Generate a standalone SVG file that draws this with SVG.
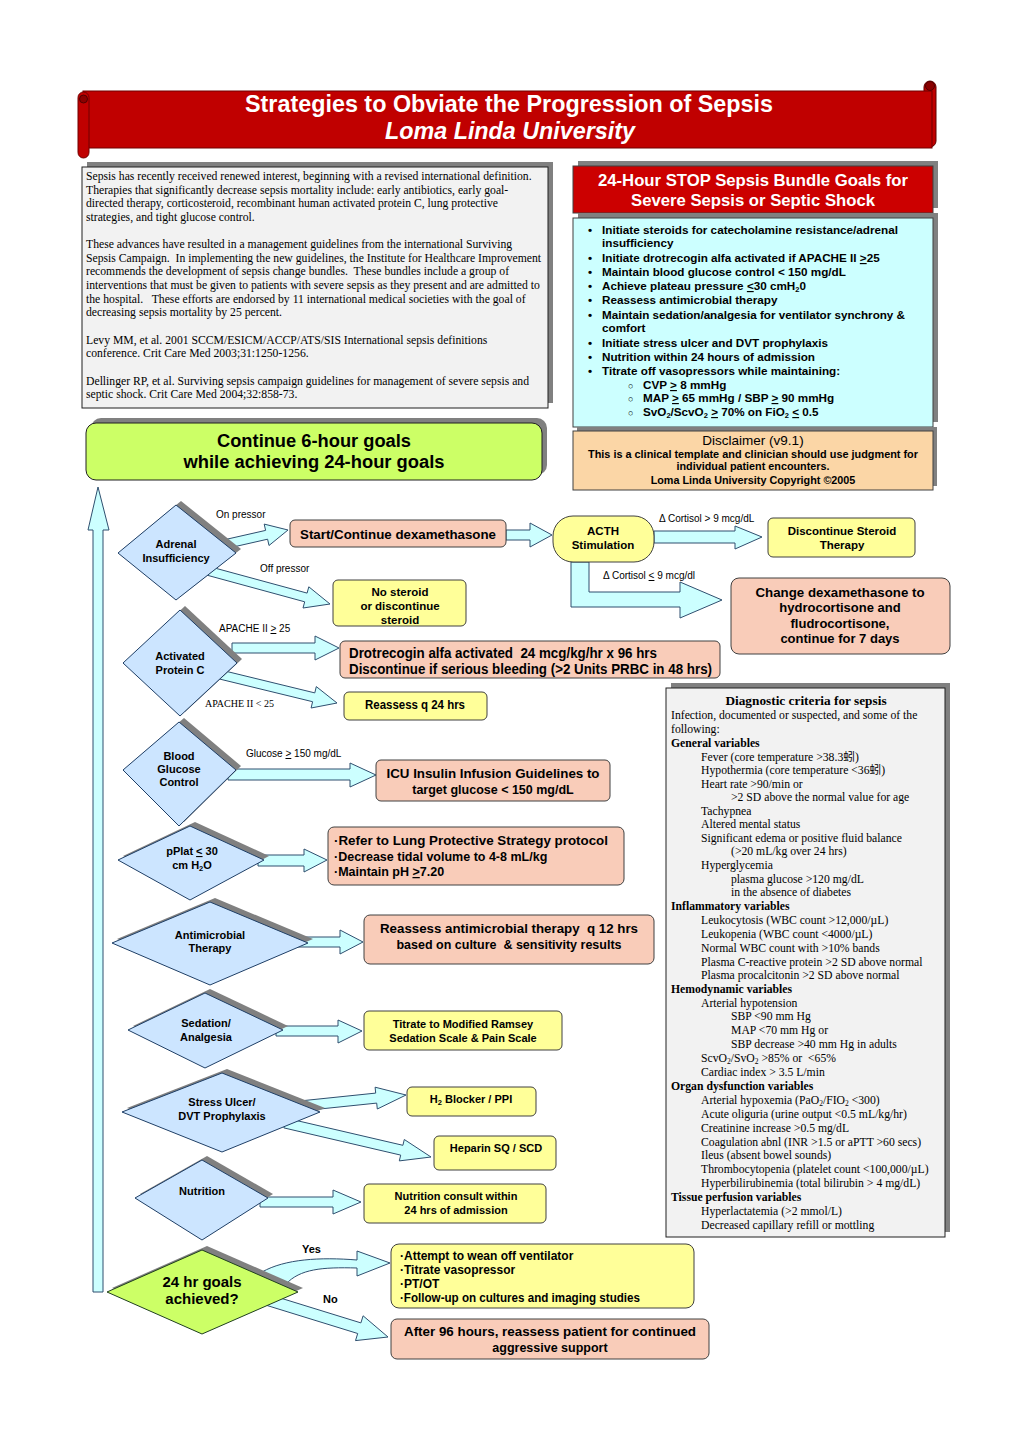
<svg xmlns="http://www.w3.org/2000/svg" width="1024" height="1448" viewBox="0 0 1024 1448">
<style>
.sans{font-family:"Liberation Sans",Arial,sans-serif}
.nar{font-family:"Liberation Sans Narrow","Liberation Sans",Arial,sans-serif}
.serif{font-family:"Liberation Serif","Times New Roman","Noto Sans CJK SC",serif}
.b{font-weight:bold}
.c{text-anchor:middle}
.u{text-decoration:underline}
.shadow{fill:#808080}
.salmon{fill:#f9ccb9;stroke:#404040;stroke-width:1}
.yellow{fill:#ffff99;stroke:#404040;stroke-width:1}
.dia{fill:#cce5ff;stroke:#1f3f66;stroke-width:1}
.arrow{fill:#ccffff;stroke:#2f4f6f;stroke-width:1}
.panel{fill:#f2f2f2;stroke:#202020;stroke-width:1}
</style>
<rect width="1024" height="1448" fill="#ffffff"/>

<!-- Title banner -->
<g id="title">
  <rect x="924" y="81" width="12" height="66" rx="6" fill="#c00000" stroke="#600000"/>
  <circle cx="930" cy="86" r="4.5" fill="#8a0000" stroke="#500000"/>
  <rect x="83" y="91" width="849" height="57" fill="#c00000" stroke="#700000"/>
  <rect x="78" y="92" width="11" height="66" rx="5.5" fill="#c00000" stroke="#700000"/>
  <circle cx="83.5" cy="99" r="4" fill="#8a0000" stroke="#500000"/>
  <text x="509" y="112" class="sans b c" font-size="23" fill="#ffffff" textLength="528" lengthAdjust="spacingAndGlyphs">Strategies to Obviate the Progression of Sepsis</text>
  <text x="510" y="139" class="sans b c" font-size="23" font-style="italic" fill="#ffffff" textLength="250" lengthAdjust="spacingAndGlyphs">Loma Linda University</text>
</g>

<!-- Intro text panel -->
<g id="intro">
  <rect x="87" y="162" width="466" height="241" class="shadow"/>
  <rect x="82" y="167" width="466" height="241" class="panel"/>
  <g class="serif" font-size="11.7" fill="#000">
    <text x="86" y="180">Sepsis has recently received renewed interest, beginning with a revised international definition.</text>
    <text x="86" y="194">Therapies that significantly decrease sepsis mortality include: early antibiotics, early goal-</text>
    <text x="86" y="207">directed therapy, corticosteroid, recombinant human activated protein C, lung protective</text>
    <text x="86" y="221">strategies, and tight glucose control.</text>
    <text x="86" y="248">These advances have resulted in a management guidelines from the international Surviving</text>
    <text x="86" y="262" xml:space="preserve">Sepsis Campaign.  In implementing the new guidelines, the Institute for Healthcare Improvement</text>
    <text x="86" y="275" xml:space="preserve">recommends the development of sepsis change bundles.  These bundles include a group of</text>
    <text x="86" y="289">interventions that must be given to patients with severe sepsis as they present and are admitted to</text>
    <text x="86" y="303" xml:space="preserve">the hospital.   These efforts are endorsed by 11 international medical societies with the goal of</text>
    <text x="86" y="316">decreasing sepsis mortality by 25 percent.</text>
    <text x="86" y="344">Levy MM, et al. 2001 SCCM/ESICM/ACCP/ATS/SIS International sepsis definitions</text>
    <text x="86" y="357">conference. Crit Care Med 2003;31:1250-1256.</text>
    <text x="86" y="385">Dellinger RP, et al. Surviving sepsis campaign guidelines for management of severe sepsis and</text>
    <text x="86" y="398">septic shock. Crit Care Med 2004;32:858-73.</text>
  </g>
</g>

<!-- 24-hour bundle header -->
<g id="bundle-header">
  <rect x="578" y="161" width="360" height="47" class="shadow"/>
  <rect x="573" y="166" width="360" height="47" fill="#cc0000" stroke="#404040"/>
  <text x="753" y="186" class="sans b c" font-size="16" fill="#ffffff" textLength="310" lengthAdjust="spacingAndGlyphs">24-Hour STOP Sepsis Bundle Goals for</text>
  <text x="753" y="206" class="sans b c" font-size="16" fill="#ffffff" textLength="244" lengthAdjust="spacingAndGlyphs">Severe Sepsis or Septic Shock</text>
</g>

<!-- Bundle goals list -->
<g id="bundle-goals">
  <rect x="578" y="213" width="360" height="209" class="shadow"/>
  <rect x="573" y="218" width="360" height="209" fill="#ccffff" stroke="#404040"/>
  <g class="sans b" font-size="11.7" fill="#000">
    <text x="588" y="234">•</text><text x="602" y="234" textLength="296" lengthAdjust="spacingAndGlyphs">Initiate steroids for catecholamine resistance/adrenal</text>
    <text x="602" y="247">insufficiency</text>
    <text x="588" y="262">•</text><text x="602" y="262">Initiate drotrecogin alfa activated if APACHE II <tspan class="u">&gt;</tspan>25</text>
    <text x="588" y="276">•</text><text x="602" y="276">Maintain blood glucose control &lt; 150 mg/dL</text>
    <text x="588" y="290">•</text><text x="602" y="290">Achieve plateau pressure <tspan class="u">&lt;</tspan>30 cmH<tspan font-size="7.5" dy="2">2</tspan><tspan dy="-2">0</tspan></text>
    <text x="588" y="304">•</text><text x="602" y="304">Reassess antimicrobial therapy</text>
    <text x="588" y="319">•</text><text x="602" y="319" textLength="303" lengthAdjust="spacingAndGlyphs">Maintain sedation/analgesia for ventilator synchrony &amp;</text>
    <text x="602" y="332">comfort</text>
    <text x="588" y="347">•</text><text x="602" y="347">Initiate stress ulcer and DVT prophylaxis</text>
    <text x="588" y="361">•</text><text x="602" y="361">Nutrition within 24 hours of admission</text>
    <text x="588" y="375">•</text><text x="602" y="375">Titrate off vasopressors while maintaining:</text>
    <text x="628" y="389" font-weight="normal" font-size="9">○</text><text x="643" y="389">CVP <tspan class="u">&gt;</tspan> 8 mmHg</text>
    <text x="628" y="402" font-weight="normal" font-size="9">○</text><text x="643" y="402">MAP <tspan class="u">&gt;</tspan> 65 mmHg / SBP <tspan class="u">&gt;</tspan> 90 mmHg</text>
    <text x="628" y="416" font-weight="normal" font-size="9">○</text><text x="643" y="416">SvO<tspan font-size="7.5" dy="2">2</tspan><tspan dy="-2">/ScvO</tspan><tspan font-size="7.5" dy="2">2</tspan><tspan dy="-2"> </tspan><tspan class="u">&gt;</tspan> 70% on FiO<tspan font-size="7.5" dy="2">2</tspan><tspan dy="-2"> </tspan><tspan class="u">&lt;</tspan> 0.5</text>
  </g>
</g>

<!-- Disclaimer -->
<g id="disclaimer">
  <rect x="577" y="427" width="360" height="59" class="shadow"/>
  <rect x="573" y="431" width="360" height="59" fill="#fbd6a6" stroke="#404040"/>
  <text x="753" y="445" class="sans c" font-size="13.5" fill="#000">Disclaimer (v9.1)</text>
  <text x="753" y="458" class="sans b c" font-size="10.8" fill="#000" textLength="330" lengthAdjust="spacingAndGlyphs">This is a clinical template and clinician should use judgment for</text>
  <text x="753" y="470" class="sans b c" font-size="10.8" fill="#000">individual patient encounters.</text>
  <text x="753" y="484" class="sans b c" font-size="10.8" fill="#000">Loma Linda University Copyright ©2005</text>
</g>

<!-- Continue box -->
<g id="continue">
  <rect x="91" y="418" width="456" height="57" rx="10" class="shadow"/>
  <rect x="86" y="423" width="456" height="57" rx="10" fill="#ccff66" stroke="#202020"/>
  <text x="314" y="447" class="sans b c" font-size="18" fill="#000" textLength="194" lengthAdjust="spacingAndGlyphs">Continue 6-hour goals</text>
  <text x="314" y="468" class="sans b c" font-size="18" fill="#000" textLength="261" lengthAdjust="spacingAndGlyphs">while achieving 24-hour goals</text>
</g>

<!-- Connectors -->
<g id="connectors">
  <!-- loop-back vertical arrow -->
  <polygon class="arrow" points="93,1292 93,530 88,530 98,487 109,530 103,530 103,1292"/>
  <!-- Adrenal -> Start/Continue -->
  <polygon class="arrow" points="227,548.4 267.6,539.2 269,545.5 288,530 264.2,524.1 265.6,530.4 225,539.6"/>
  <!-- Adrenal -> No steroid -->
  <polygon class="arrow" points="203.8,574.3 304.7,601.8 303,608 330,604 308.8,586.8 307.1,593.1 206.2,565.7"/>
  <!-- Start -> ACTH -->
  <polygon class="arrow" points="506,530 530,530 530,523 552,535 530,547 530,540 506,540"/>
  <!-- ACTH -> Discontinue -->
  <polygon class="arrow" points="654,531 735,531 735,526 762,537 735,549 735,543 654,543"/>
  <!-- ACTH -> Change dexamethasone (elbow) -->
  <polygon class="arrow" points="571,562 571,607 680,607 680,618 722,600 680,582 680,592 589,592 589,562"/>
  <!-- Activated -> Drotrecogin -->
  <polygon class="arrow" points="232,643 315,643 315,636 339,648 315,660 315,653 232,653"/>
  <!-- Activated -> Reassess -->
  <polygon class="arrow" points="216.9,678.4 312.6,701.7 311.1,708 337,703 316.3,686.6 314.8,692.9 219.1,669.6"/>
  <!-- Blood glucose -> ICU -->
  <polygon class="arrow" points="228,769 350,769 350,763 376,775 350,787 350,780 228,780"/>
  <!-- pPlat -> Lung -->
  <polygon class="arrow" points="258,855 304,855 304,849 327,860 304,872 304,866 258,866"/>
  <!-- Antimicrobial -> Reassess -->
  <polygon class="arrow" points="298,937 340,937 340,930 363,942 340,954 340,947 298,947"/>
  <!-- Sedation -> Titrate -->
  <polygon class="arrow" points="276,1026 338,1026 338,1020 362,1031 338,1043 338,1036 276,1036"/>
  <!-- Stress -> H2 -->
  <polygon class="arrow" points="300.5,1111 376.7,1103.1 377.3,1109 406,1095 375.1,1087.2 375.7,1093.1 299.5,1101"/>
  <!-- Stress -> Heparin -->
  <polygon class="arrow" points="283.9,1127.9 400.7,1155.1 399.3,1160.9 431,1157 404.3,1139.5 402.9,1145.3 286.1,1118.1"/>
  <!-- Nutrition -> consult -->
  <polygon class="arrow" points="260,1197 333,1197 333,1190 361,1202 333,1214 333,1207 260,1207"/>
  <!-- 24hr -> Yes -->
  <path class="arrow" d="M262,1272 C285,1259 320,1257 357,1260 L357,1251 L390,1263 L357,1276 L357,1268 C322,1267 300,1269 286,1284 Z"/>
  <!-- 24hr -> No -->
  <polygon class="arrow" points="266.4,1305.3 357.7,1333.5 355.5,1340.6 388,1337 363.1,1315.8 360.9,1322.9 269.6,1294.7"/>
  <!-- labels -->
  <g class="nar" font-size="10" fill="#000">
    <text x="216" y="518">On pressor</text>
    <text x="260" y="572">Off pressor</text>
    <text x="219" y="632">APACHE II <tspan class="u">&gt;</tspan> 25</text>
    <text x="246" y="757">Glucose <tspan class="u">&gt;</tspan> 150 mg/dL</text>
    <text x="659" y="522">Δ Cortisol &gt; 9 mcg/dL</text>
    <text x="603" y="579">Δ Cortisol <tspan class="u">&lt;</tspan> 9 mcg/dl</text>
  </g>
  <text x="205" y="707" class="serif" font-size="10" fill="#000">APACHE II &lt; 25</text>
  <text x="302" y="1253" class="sans b" font-size="11" fill="#000">Yes</text>
  <text x="323" y="1303" class="sans b" font-size="11" fill="#000">No</text>
</g>

<!-- Decision diamonds -->
<g id="adrenal">
  <polygon class="shadow" points="123,549 181,501 241,549 181,596"/>
  <polygon class="dia" points="118,553 176,505 236,553 176,600"/>
  <text x="176" y="548" class="sans b c" font-size="11">Adrenal</text>
  <text x="176" y="562" class="sans b c" font-size="11">Insufficiency</text>
</g>
<g id="apc">
  <polygon class="shadow" points="128,659 185,606 242,659 185,712"/>
  <polygon class="dia" points="123,663 180,610 237,663 180,716"/>
  <text x="180" y="660" class="sans b c" font-size="11">Activated</text>
  <text x="180" y="674" class="sans b c" font-size="11">Protein C</text>
</g>
<g id="glucose">
  <polygon class="shadow" points="128,766 184,718 241,766 184,822"/>
  <polygon class="dia" points="123,770 179,722 236,770 179,826"/>
  <text x="179" y="760" class="sans b c" font-size="11">Blood</text>
  <text x="179" y="773" class="sans b c" font-size="11">Glucose</text>
  <text x="179" y="786" class="sans b c" font-size="11">Control</text>
</g>
<g id="pplat">
  <polygon class="shadow" points="123,856 195,822 269,856 195,896"/>
  <polygon class="dia" points="118,860 190,826 264,860 190,900"/>
  <text x="192" y="855" class="sans b c" font-size="11">pPlat <tspan class="u">&lt;</tspan> 30</text>
  <text x="192" y="869" class="sans b c" font-size="11">cm H<tspan font-size="7.5" dy="2">2</tspan><tspan dy="-2">O</tspan></text>
</g>
<g id="antimicrobial">
  <polygon class="shadow" points="117,939 215,898 313,939 215,981"/>
  <polygon class="dia" points="112,943 210,902 308,943 210,985"/>
  <text x="210" y="939" class="sans b c" font-size="11">Antimicrobial</text>
  <text x="210" y="952" class="sans b c" font-size="11">Therapy</text>
</g>
<g id="sedation">
  <polygon class="shadow" points="133,1026 210,989 288,1026 210,1064"/>
  <polygon class="dia" points="128,1030 205,993 283,1030 205,1068"/>
  <text x="206" y="1027" class="sans b c" font-size="11">Sedation/</text>
  <text x="206" y="1041" class="sans b c" font-size="11">Analgesia</text>
</g>
<g id="stress">
  <polygon class="shadow" points="127,1108 227,1069 325,1108 227,1148"/>
  <polygon class="dia" points="122,1112 222,1073 320,1112 222,1152"/>
  <text x="222" y="1106" class="sans b c" font-size="11">Stress Ulcer/</text>
  <text x="222" y="1120" class="sans b c" font-size="11">DVT Prophylaxis</text>
</g>
<g id="nutrition">
  <polygon class="shadow" points="140,1194 207,1156 273,1194 207,1236"/>
  <polygon class="dia" points="135,1198 202,1160 268,1198 202,1240"/>
  <text x="202" y="1195" class="sans b c" font-size="11">Nutrition</text>
</g>
<g id="goals-achieved">
  <polygon class="shadow" points="112,1288 207,1246 303,1288 207,1330"/>
  <polygon points="107,1292 202,1250 298,1292 202,1334" fill="#ccff66" stroke="#1f3f1f"/>
  <text x="202" y="1287" class="sans b c" font-size="15">24 hr goals</text>
  <text x="202" y="1304" class="sans b c" font-size="15">achieved?</text>
</g>

<!-- Action boxes -->
<g id="start-dexa">
  <rect x="290" y="520" width="216" height="27" rx="5" class="salmon"/>
  <text x="398" y="539" class="sans b c" font-size="13" textLength="196" lengthAdjust="spacingAndGlyphs">Start/Continue dexamethasone</text>
</g>
<g id="acth">
  <rect x="553" y="516" width="101" height="46" rx="20" class="yellow"/>
  <text x="603" y="535" class="nar b c" font-size="11.5">ACTH</text>
  <text x="603" y="549" class="nar b c" font-size="11.5">Stimulation</text>
</g>
<g id="discontinue-steroid">
  <rect x="768" y="518" width="147" height="39" rx="5" class="yellow"/>
  <text x="842" y="535" class="nar b c" font-size="11.5">Discontinue Steroid</text>
  <text x="842" y="549" class="nar b c" font-size="11.5">Therapy</text>
</g>
<g id="no-steroid">
  <rect x="333" y="580" width="133" height="46" rx="5" class="yellow"/>
  <text x="400" y="596" class="nar b c" font-size="11.5">No steroid</text>
  <text x="400" y="610" class="nar b c" font-size="11.5">or discontinue</text>
  <text x="400" y="624" class="nar b c" font-size="11.5">steroid</text>
</g>
<g id="change-dexa">
  <rect x="731" y="578" width="219" height="76" rx="8" class="salmon"/>
  <text x="840" y="597" class="sans b c" font-size="13" textLength="169" lengthAdjust="spacingAndGlyphs">Change dexamethasone to</text>
  <text x="840" y="612" class="sans b c" font-size="13">hydrocortisone and</text>
  <text x="840" y="628" class="sans b c" font-size="13">fludrocortisone,</text>
  <text x="840" y="643" class="sans b c" font-size="13">continue for 7 days</text>
</g>
<g id="drotrecogin">
  <rect x="340" y="641" width="380" height="37" rx="5" class="salmon"/>
  <text x="349" y="658" class="nar b" font-size="14" textLength="308" lengthAdjust="spacingAndGlyphs" xml:space="preserve">Drotrecogin alfa activated  24 mcg/kg/hr x 96 hrs</text>
  <text x="349" y="674" class="nar b" font-size="14" textLength="363" lengthAdjust="spacingAndGlyphs">Discontinue if serious bleeding (&gt;2 Units PRBC in 48 hrs)</text>
</g>
<g id="reassess-24">
  <rect x="344" y="692" width="143" height="28" rx="5" class="yellow"/>
  <text x="415" y="709" class="nar b c" font-size="12" textLength="100" lengthAdjust="spacingAndGlyphs">Reassess q 24 hrs</text>
</g>
<g id="icu-insulin">
  <rect x="376" y="760" width="234" height="41" rx="5" class="salmon"/>
  <text x="493" y="778" class="sans b c" font-size="12.5" textLength="213" lengthAdjust="spacingAndGlyphs">ICU Insulin Infusion Guidelines to</text>
  <text x="493" y="794" class="sans b c" font-size="12.5">target glucose &lt; 150 mg/dL</text>
</g>
<g id="lung">
  <rect x="328" y="827" width="296" height="58" rx="6" class="salmon"/>
  <text x="334" y="845" class="sans b" font-size="12.5" textLength="274" lengthAdjust="spacingAndGlyphs">·Refer to Lung Protective Strategy protocol</text>
  <text x="334" y="861" class="sans b" font-size="12.5">·Decrease tidal volume to 4-8 mL/kg</text>
  <text x="334" y="876" class="sans b" font-size="12.5">·Maintain pH <tspan class="u">&gt;</tspan>7.20</text>
</g>
<g id="reassess-antimicrobial">
  <rect x="364" y="915" width="290" height="49" rx="6" class="salmon"/>
  <text x="509" y="933" class="sans b c" font-size="12.5" textLength="258" lengthAdjust="spacingAndGlyphs" xml:space="preserve">Reassess antimicrobial therapy  q 12 hrs</text>
  <text x="509" y="949" class="sans b c" font-size="12.5" xml:space="preserve">based on culture  &amp; sensitivity results</text>
</g>
<g id="ramsey">
  <rect x="364" y="1011" width="198" height="39" rx="5" class="yellow"/>
  <text x="463" y="1028" class="sans b c" font-size="11">Titrate to Modified Ramsey</text>
  <text x="463" y="1042" class="sans b c" font-size="11">Sedation Scale &amp; Pain Scale</text>
</g>
<g id="h2">
  <rect x="407" y="1087" width="129" height="29" rx="5" class="yellow"/>
  <text x="471" y="1103" class="sans b c" font-size="11">H<tspan font-size="7.5" dy="2">2</tspan><tspan dy="-2"> Blocker / PPI</tspan></text>
</g>
<g id="heparin">
  <rect x="434" y="1136" width="122" height="34" rx="5" class="yellow"/>
  <text x="496" y="1152" class="sans b c" font-size="11">Heparin SQ / SCD</text>
</g>
<g id="nutrition-consult">
  <rect x="364" y="1184" width="182" height="39" rx="5" class="yellow"/>
  <text x="456" y="1200" class="sans b c" font-size="11">Nutrition consult within</text>
  <text x="456" y="1214" class="sans b c" font-size="11">24 hrs of admission</text>
</g>
<g id="yes-actions">
  <rect x="391" y="1244" width="303" height="64" rx="8" class="yellow"/>
  <text x="400" y="1260" class="nar b" font-size="12">·Attempt to wean off ventilator</text>
  <text x="400" y="1274" class="nar b" font-size="12">·Titrate vasopressor</text>
  <text x="400" y="1288" class="nar b" font-size="12">·PT/OT</text>
  <text x="400" y="1302" class="nar b" font-size="12" textLength="240" lengthAdjust="spacingAndGlyphs">·Follow-up on cultures and imaging studies</text>
</g>
<g id="reassess-96">
  <rect x="391" y="1319" width="318" height="40" rx="6" class="salmon"/>
  <text x="550" y="1336" class="sans b c" font-size="12.5" textLength="292" lengthAdjust="spacingAndGlyphs">After 96 hours, reassess patient for continued</text>
  <text x="550" y="1352" class="sans b c" font-size="12.5">aggressive support</text>
</g>

<!-- Diagnostic criteria panel -->
<g id="diagnostic">
  <rect x="671" y="683" width="279" height="549" class="shadow"/>
  <rect x="666" y="688" width="279" height="549" class="panel"/>
  <g class="serif" font-size="11.7" fill="#000">
    <text x="806" y="705" class="b c" font-size="13.3">Diagnostic criteria for sepsis</text>
    <text x="671" y="719">Infection, documented or suspected, and some of the</text>
    <text x="671" y="733">following:</text>
    <text x="671" y="747" class="b">General variables</text>
    <text x="701" y="761">Fever (core temperature &gt;38.3蚓)</text>
    <text x="701" y="774">Hypothermia (core temperature &lt;36蚓)</text>
    <text x="701" y="788">Heart rate &gt;90/min or</text>
    <text x="731" y="801">&gt;2 SD above the normal value for age</text>
    <text x="701" y="815">Tachypnea</text>
    <text x="701" y="828">Altered mental status</text>
    <text x="701" y="842">Significant edema or positive fluid balance</text>
    <text x="731" y="855">(&gt;20 mL/kg over 24 hrs)</text>
    <text x="701" y="869">Hyperglycemia</text>
    <text x="731" y="883">plasma glucose &gt;120 mg/dL</text>
    <text x="731" y="896">in the absence of diabetes</text>
    <text x="671" y="910" class="b">Inflammatory variables</text>
    <text x="701" y="924">Leukocytosis (WBC count &gt;12,000/µL)</text>
    <text x="701" y="938">Leukopenia (WBC count &lt;4000/µL)</text>
    <text x="701" y="952">Normal WBC count with &gt;10% bands</text>
    <text x="701" y="966">Plasma C-reactive protein &gt;2 SD above normal</text>
    <text x="701" y="979">Plasma procalcitonin &gt;2 SD above normal</text>
    <text x="671" y="993" class="b">Hemodynamic variables</text>
    <text x="701" y="1007">Arterial hypotension</text>
    <text x="731" y="1020">SBP &lt;90 mm Hg</text>
    <text x="731" y="1034">MAP &lt;70 mm Hg or</text>
    <text x="731" y="1048">SBP decrease &gt;40 mm Hg in adults</text>
    <text x="701" y="1062">ScvO<tspan font-size="7.5" dy="2">2</tspan><tspan dy="-2">/SvO</tspan><tspan font-size="7.5" dy="2">2</tspan><tspan dy="-2" xml:space="preserve"> &gt;85% or  &lt;65%</tspan></text>
    <text x="701" y="1076">Cardiac index &gt; 3.5 L/min</text>
    <text x="671" y="1090" class="b">Organ dysfunction variables</text>
    <text x="701" y="1104">Arterial hypoxemia (PaO<tspan font-size="7.5" dy="2">2</tspan><tspan dy="-2">/FIO</tspan><tspan font-size="7.5" dy="2">2</tspan><tspan dy="-2"> &lt;300)</tspan></text>
    <text x="701" y="1118">Acute oliguria (urine output &lt;0.5 mL/kg/hr)</text>
    <text x="701" y="1132">Creatinine increase &gt;0.5 mg/dL</text>
    <text x="701" y="1146">Coagulation abnl (INR &gt;1.5 or aPTT &gt;60 secs)</text>
    <text x="701" y="1159">Ileus (absent bowel sounds)</text>
    <text x="701" y="1173">Thrombocytopenia (platelet count &lt;100,000/µL)</text>
    <text x="701" y="1187">Hyperbilirubinemia (total bilirubin &gt; 4 mg/dL)</text>
    <text x="671" y="1201" class="b">Tissue perfusion variables</text>
    <text x="701" y="1215">Hyperlactatemia (&gt;2 mmol/L)</text>
    <text x="701" y="1229">Decreased capillary refill or mottling</text>
  </g>
</g>
</svg>
